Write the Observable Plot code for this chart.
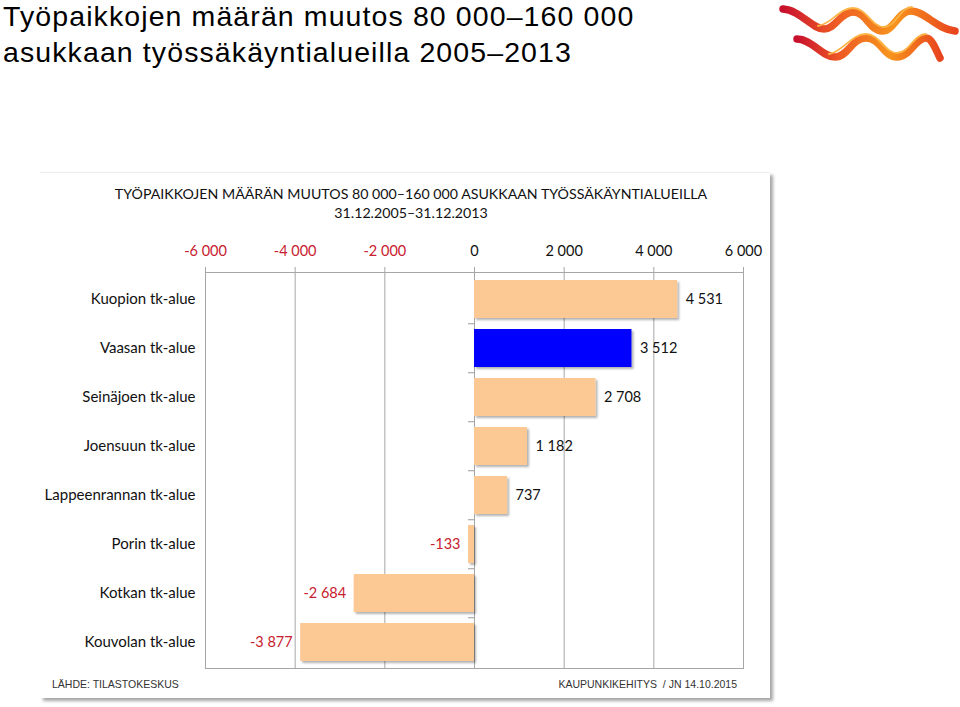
<!DOCTYPE html>
<html>
<head>
<meta charset="utf-8">
<script src="https://cdn.jsdelivr.net/npm/d3@7"></script>
<script src="https://cdn.jsdelivr.net/npm/@observablehq/plot@0.6"></script>
<style>
  html, body { margin: 0; padding: 0; background: #fff; }
  #page { position: relative; width: 960px; height: 707px; overflow: hidden; background: #fff; }
  .title { position: absolute; left: 3px; font-family: "Liberation Sans", Arial, sans-serif; font-size: 28.5px; line-height: 30px; letter-spacing: 1.1px; color: #000; white-space: nowrap; }
  #logo { position: absolute; left: 0; top: 0; }
  #panel { position: absolute; left: 40px; top: 172px; width: 730px; height: 525px; background: #fff; border-top: 1px solid #eee; box-shadow: 3px 3px 3px rgba(0,0,0,0.35); }
  #innerTitle { position: absolute; left: 40px; top: 184px; width: 742px; text-align: center; font-family: Lato, "Open Sans", sans-serif; font-size: 14.2px; line-height: 19px; color: #111; }
  #chart { position: absolute; left: 40px; top: 230px; }
  .foot { position: absolute; top: 678px; font-family: "Liberation Sans Narrow", "Arial Narrow", "Liberation Sans", sans-serif; font-size: 10.5px; color: #333; white-space: nowrap; }
</style>
</head>
<body>
<div id="page">
  <div class="title" style="top:1px;">Työpaikkojen määrän muutos 80 000–160 000</div>
  <div class="title" style="top:37px;">asukkaan työssäkäyntialueilla 2005–2013</div>
  <svg id="logo" width="960" height="70">
    <defs>
      <linearGradient id="wave" x1="0" x2="1" y1="0" y2="0">
        <stop offset="0" stop-color="#c8102e"/>
        <stop offset="0.3" stop-color="#ee5a24"/>
        <stop offset="0.65" stop-color="#f7941d"/>
        <stop offset="1" stop-color="#e8451e"/>
      </linearGradient>
    </defs>
    <g fill="none" stroke-linecap="round">
      <path d="M783,9 C800,10 812,29 824,29 C836,29 840,12 853,12 C866,12 870,31 882,31 C894,31 898,11 911,11 C925,11 936,29 955,31" stroke="url(#wave)" stroke-width="7.5"/>
      <path d="M818,26 C832,24 839,8 853,8 C866,8 872,27 884,27 C896,27 900,7 912,7" stroke="#fcb447" stroke-width="1.8"/>
      <path d="M797,39 C812,39 822,57 835,57 C848,57 852,38 866,38 C880,38 884,57 897,57 C910,57 915,38 926,38 C932,38 936,50 940,58" stroke="url(#wave)" stroke-width="7.5"/>
      <path d="M829,54 C843,52 851,34 866,34 C879,34 885,53 897,53 C909,53 914,34 926,34" stroke="#fcb447" stroke-width="1.8"/>
    </g>
  </svg>
  <div id="panel"></div>
  <div id="innerTitle">TYÖPAIKKOJEN MÄÄRÄN MUUTOS 80 000–160 000 ASUKKAAN TYÖSSÄKÄYNTIALUEILLA<br>31.12.2005–31.12.2013</div>
  <div id="chart"></div>
  <div class="foot" style="left:52px;">LÄHDE: TILASTOKESKUS</div>
  <div class="foot" style="right:223px;">KAUPUNKIKEHITYS&nbsp; / JN 14.10.2015</div>
</div>
<script>
const categories = ["Kuopion tk-alue", "Vaasan tk-alue", "Seinäjoen tk-alue", "Joensuun tk-alue", "Lappeenrannan tk-alue", "Porin tk-alue", "Kotkan tk-alue", "Kouvolan tk-alue"];
const values = [4531, 3512, 2708, 1182, 737, -133, -2684, -3877];
const highlight = "Vaasan tk-alue";
const xTicks = [-6000, -4000, -2000, 0, 2000, 4000, 6000];

const peach = "#fcc894";
const blue = "#0000ff";
const red = "#c8202e";

const fi = d3.formatLocale({decimal: ",", thousands: " ", grouping: [3], currency: ["", " €"], minus: "-"});
const fmt = fi.format(",d");

const data = categories.map((name, i) => ({name, value: values[i]}));
const pos = data.filter(d => d.value >= 0);
const neg = data.filter(d => d.value < 0);

const W = 732, H = 445;
const chart = Plot.plot({
  width: W,
  height: H,
  marginLeft: 165,
  marginRight: 29,
  marginTop: 42,
  marginBottom: 7,
  style: {fontFamily: "Lato, 'Open Sans', sans-serif", fontSize: "14px", background: "transparent"},
  x: {domain: [-6000, 6000], axis: null},
  y: {domain: categories, axis: null, paddingInner: 0.23, paddingOuter: 0.12},
  color: {type: "identity"},
  marks: [
    Plot.frame({fill: "#fff", stroke: "#a6a6a6"}),
    Plot.ruleX(xTicks, {stroke: "#a6a6a6", insetTop: -5}),
    Plot.ruleY(categories.slice(1), {y: d => d, x1: -135, x2: 0, dy: -24.75, stroke: "#9a9a9a"}),
    Plot.barX(data, {x: "value", y: "name", fill: d => d.name === highlight ? blue : peach}),
    Plot.text(xTicks, {x: d => d, frameAnchor: "top", dy: -27, text: d => fmt(d), fill: d => d < 0 ? red : "#111", fontSize: 14.5}),
    Plot.text(categories, {y: d => d, frameAnchor: "left", textAnchor: "end", dx: -10, fill: "#111", fontSize: 15}),
    Plot.text(pos, {x: "value", y: "name", text: d => fmt(d.value), textAnchor: "start", dx: 8, fill: "#111", fontSize: 14.5}),
    Plot.text(neg, {x: "value", y: "name", text: d => fmt(d.value), textAnchor: "end", dx: -8, fill: red, fontSize: 14.5})
  ]
});

// soft drop shadows like the original spreadsheet chart
const svg = d3.select(chart);
const defs = svg.insert("defs", ":first-child");
defs.append("filter").attr("id", "sh").attr("x", "-5%").attr("y", "-10%").attr("width", "115%").attr("height", "130%")
  .append("feDropShadow").attr("dx", 2).attr("dy", 2).attr("stdDeviation", 1.2).attr("flood-color", "#000").attr("flood-opacity", 0.3);
svg.selectAll("g[aria-label='bar'], g[aria-label='frame']").attr("filter", "url(#sh)");

document.getElementById("chart").appendChild(chart);
</script>
</body>
</html>
